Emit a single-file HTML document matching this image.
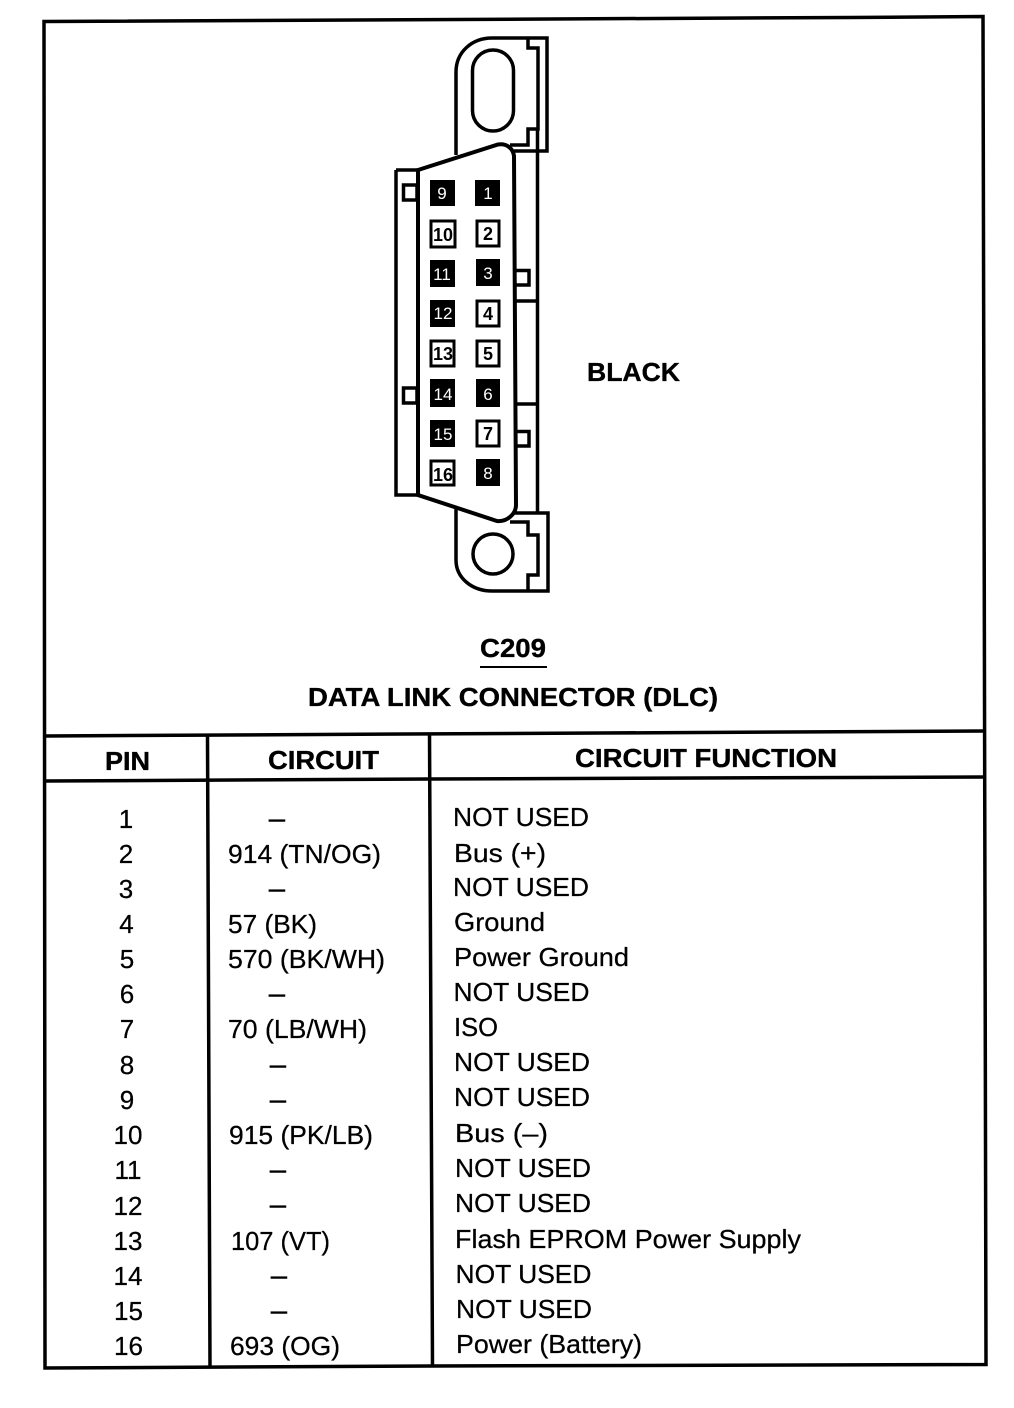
<!DOCTYPE html>
<html><head><meta charset="utf-8"><style>
html,body{margin:0;padding:0;background:#fff}
svg{display:block}
text{font-family:"Liberation Sans",sans-serif;fill:#000}
.r{font-size:26px;stroke:#000;stroke-width:.25px}
.b{font-size:26px;font-weight:bold;stroke:#000;stroke-width:.35px}
.m{text-anchor:middle}
.d{font-size:29px;text-anchor:middle;stroke:#000;stroke-width:.5px}
.pw{font-size:17px;fill:#fff;text-anchor:middle}
.pb{font-size:18px;font-weight:bold;text-anchor:middle}
</style></head><body>
<svg width="1014" height="1408" viewBox="0 0 1014 1408" xmlns="http://www.w3.org/2000/svg">
<rect width="1014" height="1408" fill="#fff"/>
<g fill="none" stroke="#000" stroke-width="3.500">
<path d="M45 1368L44 21.500L850 17.500L983 16.500L986 1364.500L432 1366L45 1368Z"/>
<path d="M45 736L600 733L984 731"/>
<path d="M45 781L430 779L985 777"/>
<path d="M207.500 736L210 1367M429.500 733L432.500 1366"/>
</g>
<g fill="none" stroke="#000" stroke-width="3.500">
<path d="M456 155V72C456 52 472 38 492 38H547V151H514"/>
<path d="M528 38V48H538V129H528V145H510"/>
<rect x="472.500" y="50" width="41" height="81" rx="20.500"/>
<path d="M396 170H418M396 170V495H418"/>
<path d="M537.500 129V514"/>
<path d="M515 301H537M515 404H537"/>
<path d="M403.500 185H417V200H403.500Z"/>
<path d="M403.500 388H417V403H403.500Z"/>
<path d="M515 270.500H529V285H515"/>
<path d="M515 431.500H529V446H515"/>
<path d="M456 508V560C456 578 472 591 492 591H548V513H514"/>
<path d="M528 591V575H538V535H528V522H510"/>
<circle cx="493" cy="554" r="20"/>
</g>
<path d="M418 170L498 144.500C506 143 513 148 514 156L516 505C516 514 507 522 497 521L418 495Z" fill="#fff" stroke="#000" stroke-width="4"/>

<g>
<rect x="430" y="180" width="25" height="26" fill="#000"/><text class="pw" x="442" y="199">9</text>
<rect x="475" y="180" width="25" height="26" fill="#000"/><text class="pw" x="488" y="199">1</text>
<rect x="431" y="221" width="24" height="26" fill="#fff" stroke="#000" stroke-width="3"/><text class="pb" x="443" y="241" textLength="20" lengthAdjust="spacingAndGlyphs">10</text>
<rect x="477" y="221" width="22" height="25" fill="#fff" stroke="#000" stroke-width="3"/><text class="pb" x="488" y="240">2</text>
<rect x="430" y="260" width="25" height="27" fill="#000"/><text class="pw" x="442" y="280">11</text>
<rect x="476" y="259" width="24" height="27" fill="#000"/><text class="pw" x="488" y="279">3</text>
<rect x="430" y="300" width="25" height="27" fill="#000"/><text class="pw" x="443" y="319">12</text>
<rect x="477" y="301" width="22" height="25" fill="#fff" stroke="#000" stroke-width="3"/><text class="pb" x="488" y="320">4</text>
<rect x="431" y="341" width="23" height="25" fill="#fff" stroke="#000" stroke-width="3"/><text class="pb" x="443" y="360" textLength="20" lengthAdjust="spacingAndGlyphs">13</text>
<rect x="477" y="341" width="22" height="25" fill="#fff" stroke="#000" stroke-width="3"/><text class="pb" x="488" y="360">5</text>
<rect x="430" y="379" width="25" height="28" fill="#000"/><text class="pw" x="443" y="400">14</text>
<rect x="476" y="379" width="24" height="28" fill="#000"/><text class="pw" x="488" y="400">6</text>
<rect x="430" y="420" width="25" height="27" fill="#000"/><text class="pw" x="443" y="440">15</text>
<rect x="477" y="421" width="22" height="25" fill="#fff" stroke="#000" stroke-width="3"/><text class="pb" x="488" y="440">7</text>
<rect x="431" y="461" width="23" height="24" fill="#fff" stroke="#000" stroke-width="3"/><text class="pb" x="443" y="481" textLength="20" lengthAdjust="spacingAndGlyphs">16</text>
<rect x="476" y="459" width="24" height="27" fill="#000"/><text class="pw" x="488" y="479">8</text>
</g>

<text class="b" x="587" y="381" textLength="93" lengthAdjust="spacingAndGlyphs">BLACK</text>
<text class="b" x="480" y="657" textLength="66" lengthAdjust="spacingAndGlyphs">C209</text>
<path d="M480 667H547" stroke="#000" stroke-width="2"/>
<text class="b" x="308" y="706" textLength="410" lengthAdjust="spacingAndGlyphs">DATA LINK CONNECTOR (DLC)</text>
<text class="b" x="105" y="770" textLength="45" lengthAdjust="spacingAndGlyphs">PIN</text>
<text class="b" x="268" y="769" textLength="111" lengthAdjust="spacingAndGlyphs">CIRCUIT</text>
<text class="b" x="575" y="767" textLength="262" lengthAdjust="spacingAndGlyphs">CIRCUIT FUNCTION</text>

<g>
<text class="r m" x="126" y="828">1</text>
<text class="r m" x="126" y="863">2</text>
<text class="r m" x="126" y="898">3</text>
<text class="r m" x="126.500" y="933">4</text>
<text class="r m" x="127" y="968">5</text>
<text class="r m" x="127" y="1003">6</text>
<text class="r m" x="127" y="1038">7</text>
<text class="r m" x="127" y="1074">8</text>
<text class="r m" x="127" y="1109">9</text>
<text class="r m" x="128" y="1144">10</text>
<text class="r m" x="128" y="1179">11</text>
<text class="r m" x="128" y="1215">12</text>
<text class="r m" x="128" y="1250">13</text>
<text class="r m" x="128" y="1285">14</text>
<text class="r m" x="128.500" y="1320">15</text>
<text class="r m" x="128.500" y="1355">16</text>

<text class="d" x="277" y="828">–</text>
<text class="r" x="228" y="863" textLength="153" lengthAdjust="spacingAndGlyphs">914 (TN/OG)</text>
<text class="d" x="277" y="898">–</text>
<text class="r" x="228" y="933" textLength="89" lengthAdjust="spacingAndGlyphs">57 (BK)</text>
<text class="r" x="228" y="968" textLength="157" lengthAdjust="spacingAndGlyphs">570 (BK/WH)</text>
<text class="d" x="277" y="1003">–</text>
<text class="r" x="228" y="1038" textLength="139" lengthAdjust="spacingAndGlyphs">70 (LB/WH)</text>
<text class="d" x="278" y="1074">–</text>
<text class="d" x="278" y="1109">–</text>
<text class="r" x="229" y="1144" textLength="144" lengthAdjust="spacingAndGlyphs">915 (PK/LB)</text>
<text class="d" x="278" y="1179">–</text>
<text class="d" x="278" y="1214">–</text>
<text class="r" x="231" y="1250" textLength="99" lengthAdjust="spacingAndGlyphs">107 (VT)</text>
<text class="d" x="279" y="1285">–</text>
<text class="d" x="279" y="1320">–</text>
<text class="r" x="230" y="1355" textLength="110" lengthAdjust="spacingAndGlyphs">693 (OG)</text>

<text class="r" x="453" y="826" textLength="136" lengthAdjust="spacingAndGlyphs">NOT USED</text>
<text class="r" x="454" y="862" textLength="92" lengthAdjust="spacingAndGlyphs">Bus (+)</text>
<text class="r" x="453" y="896" textLength="136" lengthAdjust="spacingAndGlyphs">NOT USED</text>
<text class="r" x="454" y="931" textLength="91" lengthAdjust="spacingAndGlyphs">Ground</text>
<text class="r" x="454" y="966" textLength="175" lengthAdjust="spacingAndGlyphs">Power Ground</text>
<text class="r" x="453.500" y="1001" textLength="136" lengthAdjust="spacingAndGlyphs">NOT USED</text>
<text class="r" x="454" y="1036" textLength="44" lengthAdjust="spacingAndGlyphs">ISO</text>
<text class="r" x="454" y="1071" textLength="136" lengthAdjust="spacingAndGlyphs">NOT USED</text>
<text class="r" x="454" y="1106" textLength="136" lengthAdjust="spacingAndGlyphs">NOT USED</text>
<text class="r" x="455" y="1142" textLength="93" lengthAdjust="spacingAndGlyphs">Bus (–)</text>
<text class="r" x="455" y="1177" textLength="136" lengthAdjust="spacingAndGlyphs">NOT USED</text>
<text class="r" x="455" y="1212" textLength="136" lengthAdjust="spacingAndGlyphs">NOT USED</text>
<text class="r" x="455" y="1248" textLength="346" lengthAdjust="spacingAndGlyphs">Flash EPROM Power Supply</text>
<text class="r" x="455.500" y="1283" textLength="136" lengthAdjust="spacingAndGlyphs">NOT USED</text>
<text class="r" x="456" y="1318" textLength="136" lengthAdjust="spacingAndGlyphs">NOT USED</text>
<text class="r" x="456" y="1353" textLength="186" lengthAdjust="spacingAndGlyphs">Power (Battery)</text>
</g>
</svg>
</body></html>
